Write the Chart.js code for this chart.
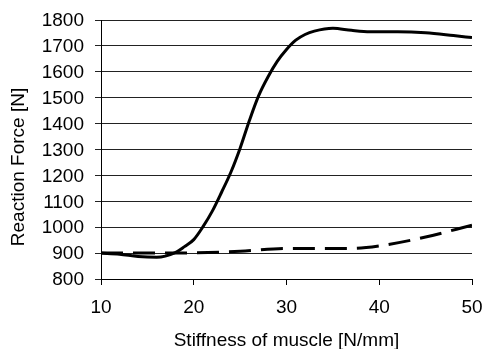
<!DOCTYPE html>
<html>
<head>
<meta charset="utf-8">
<script src="https://cdn.jsdelivr.net/npm/chart.js@4/dist/chart.umd.min.js"></script>
<style>
  body { margin: 0; background: #fff; }
  #wrap { width: 482px; height: 349px; }
</style>
</head>
<body>
<div id="wrap"><canvas id="force" width="482" height="349"></canvas></div>
<script>
// values
const solidX = [10, 12, 14, 16, 18, 19, 20, 21, 22, 23, 24, 25, 26, 27, 28, 29, 30, 31, 32, 33, 35, 37, 39, 42, 45, 48, 50];
const solidY = [900, 896, 887, 884, 902, 925, 952, 1002, 1062, 1135, 1212, 1305, 1412, 1508, 1580, 1640, 1686, 1722, 1744, 1757, 1768, 1760, 1755, 1755, 1751, 1740, 1732];
const dashX = [10, 15, 20, 25, 30, 35, 37, 40, 45, 50];
const dashY = [900, 900, 901, 907, 918, 918, 918, 928, 962, 1008];
const xTitle = 'Stiffness of muscle [N/mm]';
const yTitle = 'Reaction Force [N]';

Chart.defaults.font.family = "'Liberation Sans', Arial, sans-serif";
Chart.defaults.font.size = 19;
Chart.defaults.color = '#000';

const toPoints = (xs, ys) => xs.map((x, i) => ({ x: x, y: ys[i] }));

// axis titles drawn by hand so they sit where the original has them
const axisTitles = {
    id: 'axisTitles',
    afterDraw: function(chart) {
        const ctx = chart.ctx;
        const area = chart.chartArea;
        ctx.save();
        ctx.fillStyle = '#000';
        ctx.font = "19px 'Liberation Sans', Arial, sans-serif";
        ctx.textAlign = 'center';
        ctx.textBaseline = 'middle';
        ctx.fillText(xTitle, (area.left + area.right) / 2, 340.5);
        ctx.translate(19, 167);
        ctx.rotate(-Math.PI / 2);
        ctx.fillText(yTitle, 0, 0);
        ctx.restore();
    }
};

// fixed box sizes, no extra room for edge labels
function fixBox(size) {
    return function(scale) {
        if (scale.isHorizontal()) scale.height = size; else scale.width = size;
        scale.paddingLeft = 0;
        scale.paddingRight = 0;
        scale.paddingTop = 0;
        scale.paddingBottom = 0;
    };
}

const forceChart = new Chart(document.getElementById('force').getContext('2d'), {
    type: 'line',
    data: {
        datasets: [{
            label: 'solid',
            data: toPoints(solidX, solidY),
            borderColor: '#000',
            borderWidth: 3,
            pointRadius: 0,
            cubicInterpolationMode: 'monotone',
            fill: false
        }, {
            label: 'dashed',
            data: toPoints(dashX, dashY),
            borderColor: '#000',
            borderWidth: 3,
            borderDash: [22, 10],
            pointRadius: 0,
            cubicInterpolationMode: 'monotone',
            fill: false
        }]
    },
    options: {
        responsive: false,
        animation: false,
        layout: {
            autoPadding: false,
            padding: { left: 0, top: 20, right: 10, bottom: 0 }
        },
        plugins: {
            legend: { display: false },
            tooltip: { enabled: false }
        },
        scales: {
            x: {
                type: 'linear',
                min: 10,
                max: 50,
                ticks: { stepSize: 10, padding: 11, maxRotation: 0, autoSkip: false, callback: v => String(v) },
                grid: { drawOnChartArea: false, drawTicks: true, tickLength: 6, color: '#000' },
                border: { display: true, color: '#000', width: 1 },
                afterFit: fixBox(70)
            },
            y: {
                min: 800,
                max: 1800,
                ticks: { stepSize: 100, padding: 11, labelOffset: 1, autoSkip: false, callback: v => String(v) },
                grid: { color: '#222', tickLength: 6, lineWidth: 1 },
                border: { display: true, color: '#000', width: 1 },
                afterFit: fixBox(101)
            }
        }
    },
    plugins: [axisTitles]
});
</script>
</body>
</html>
